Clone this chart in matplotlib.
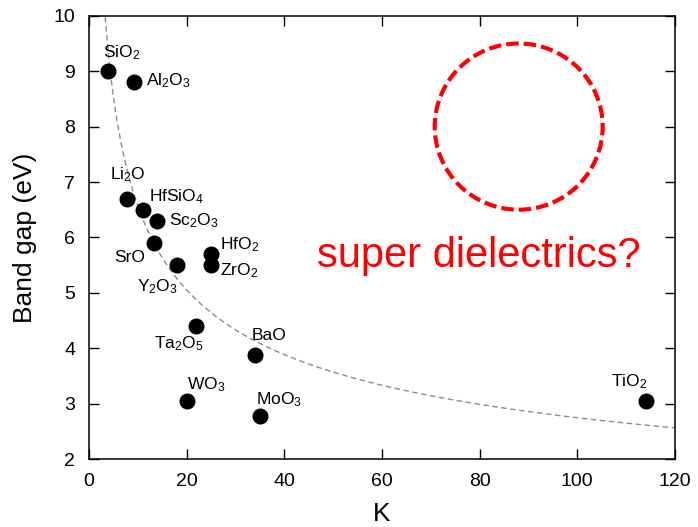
import numpy as np
import matplotlib
matplotlib.use("Agg")
import matplotlib.pyplot as plt
from matplotlib.patches import Ellipse

plt.rcParams['font.family'] = ['Liberation Sans', 'DejaVu Sans']
plt.rcParams['mathtext.fontset'] = 'custom'
plt.rcParams['mathtext.rm'] = 'Liberation Sans'
plt.rcParams['mathtext.it'] = 'Liberation Sans:italic'
plt.rcParams['mathtext.default'] = 'regular'

# oxides: dielectric constant K vs band gap
names = ['SiO$_2$', 'Al$_2$O$_3$', 'Li$_2$O', 'HfSiO$_4$', 'Sc$_2$O$_3$', 'SrO',
         'Y$_2$O$_3$', 'HfO$_2$', 'ZrO$_2$', 'Ta$_2$O$_5$', 'BaO', 'WO$_3$',
         'MoO$_3$', 'TiO$_2$']
k_vals = [3.9, 9.3, 7.7, 11.1, 14.0, 13.3, 18.0, 25.0, 25.0, 22.0, 33.9, 20.0, 35.0, 114.0]
gaps = [9.0, 8.8, 6.7, 6.5, 6.3, 5.9, 5.5, 5.7, 5.5, 4.4, 3.88, 3.05, 2.77, 3.05]
# label anchor (left, baseline)
lab_x = [2.8, 11.7, 4.2, 12.2, 16.3, 5.1, 9.8, 26.9, 26.9, 13.4, 33.4, 20.0, 34.1, 107.0]
lab_y = [9.26, 8.75, 7.04, 6.65, 6.21, 5.55, 5.02, 5.78, 5.32, 4.0, 4.15, 3.26, 2.99, 3.31]

# guide curve Eg = a * (K/k0)^-b
a_fit = 10.0
k0_fit = 3.3
b_fit = 0.379

fig = plt.figure(figsize=(6.98, 5.27), dpi=100)
ax = fig.add_axes([0.1275, 0.129, 0.8395, 0.841])

kk = np.linspace(1, 120, 400)
ax.plot(kk, a_fit * (kk / k0_fit) ** (-b_fit), ls=(0, (4, 2.5)), color='#8c8c8c', lw=1.0)

ax.plot(k_vals, gaps, 'o', color='black', ms=10.5, ls='none', zorder=3)
for n, x, y in zip(names, lab_x, lab_y):
    ax.text(x, y, n, fontsize=12.5, ha='left', va='baseline')

circ = Ellipse((88.0, 8.0), width=34.4, height=3.0, fill=False, ec='#ff0000',
               lw=3.0, ls=(0, (3, 1.2)))
ax.add_patch(circ)
ax.text(79.8, 5.47, 'super dielectrics?', color='#ff0000', fontsize=30,
        ha='center', va='baseline')

ax.set_xlim(0, 120)
ax.set_ylim(2, 10)
ax.set_xticks(np.arange(0, 121, 20))
ax.set_yticks(np.arange(2, 11, 1))
ax.tick_params(direction='in', length=7, width=1.0, top=True, right=True,
               labelsize=14, pad=10)
for s in ax.spines.values():
    s.set_linewidth(1.1)
ax.set_xlabel('K', fontsize=19, labelpad=9)
ax.set_ylabel('Band gap (eV)', fontsize=19, labelpad=12)

fig.savefig('out.png', dpi=100)
